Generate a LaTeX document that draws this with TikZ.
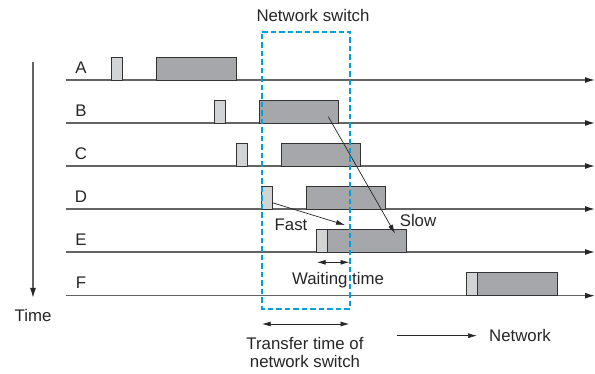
\documentclass[tikz,border=0pt]{standalone}
\usepackage{fontspec}
\setmainfont{Liberation Sans}
\usetikzlibrary{arrows.meta,calc}
\definecolor{darkbox}{RGB}{166,167,170}
\definecolor{lightbox}{RGB}{210,211,213}
\definecolor{lineg}{RGB}{100,100,100}
\definecolor{switchblue}{RGB}{0,160,223}
\tikzset{
  tl/.style={draw=lineg, line width=1.3pt, -{Latex[length=10pt,width=6pt,color=black!85]}},
  lbl/.style={font=\fontsize{16.8}{19}\selectfont, text=black!85, inner sep=0pt},
  lbox/.style={draw=black!80, fill=lightbox, line width=0.8pt, inner sep=0pt, outer sep=0pt, minimum width=11pt, minimum height=23pt, anchor=south west},
  dbox/.style={draw=black!80, fill=darkbox, line width=0.8pt, inner sep=0pt, outer sep=0pt, minimum width=80pt, minimum height=23pt, anchor=south west},
  arr/.style={draw=black!85, line width=0.7pt, -{Latex[length=9pt,width=5pt]}},
  darr/.style={draw=black!85, line width=0.9pt, {Latex[length=9pt,width=5pt]}-{Latex[length=9pt,width=5pt]}},
  swbox/.style={draw=switchblue, line width=1.8pt, dash pattern=on 5.5pt off 3pt},
}
\begin{document}
\begin{tikzpicture}[x=1pt,y=-1pt]
\useasboundingbox (0,0) rectangle (595,374);
% switch box corners
\coordinate (swnw) at (262,32);
\coordinate (swne) at (350,32);
\coordinate (swse) at (350,309);
\coordinate (swsw) at (262,309);
\node[lbl] (swl) at (313,15) {Network switch};
% timelines
\foreach \n/\y in {A/80,B/123,C/166,D/209,E/252,F/295.7}{
  \coordinate (\n0) at (65.7,\y);
  \coordinate (\n1) at (595,\y);
  \draw[tl] (\n0) -- (\n1);
  \node[lbl] (lab\n) at (81,\y-12.5) {\n};
}
% time axis
\coordinate (t0) at (33,62);
\coordinate (t1) at (33,298);
\draw[draw=lineg, line width=1.3pt, -{Latex[length=10pt,width=6pt,color=black!85]}] (t0) -- (t1);
\node[lbl] (time) at (33,315) {Time};
% boxes
\node[lbox] (As) at (111.7,80) {};
\node[dbox, minimum width=79.6pt] (Ab) at (156.7,80) {};
\node[lbox] (Bs) at (214,123) {};
\node[dbox, minimum width=79.3pt] (Bb) at (259,123) {};
\node[lbox] (Cs) at (236.7,166) {};
\node[dbox, minimum width=79.4pt] (Cb) at (281.3,166) {};
\node[dbox, minimum width=79.7pt] (Db) at (306,209) {};
\node[lbox, minimum width=10.6pt] (Ds) at (261.7,209) {};
\node[lbox, minimum width=10.6pt, minimum height=22.7pt] (Es) at (316.7,252) {};
\node[dbox, minimum width=79.4pt, minimum height=22.7pt] (Eb) at (327.3,252) {};
\node[lbox, minimum height=23pt] (Fs) at (466.7,295.7) {};
\node[dbox, minimum width=79.6pt] (Fb) at (477.7,295.7) {};
% arrows
\coordinate (bstart) at (328.3,116.7);
\coordinate (eend) at (395,233.5);
\draw[arr] (bstart) -- (eend);
\coordinate (dstart) at (272.3,202.7);
\coordinate (fend) at (345,225);
\draw[arr] (dstart) -- (fend);
\node[lbl] (fast) at (291,224.5) {Fast};
\node[lbl] (slow) at (418,220.5) {Slow};
\coordinate (w0) at (316.7,262.3);
\coordinate (w1) at (349.5,262.3);
\draw[darr] (w0) -- (w1);
\node[lbl] (wait) at (338,280.5) {Waiting time};
\coordinate (tr0) at (261.7,324);
\coordinate (tr1) at (349.5,324);
\draw[darr] (tr0) -- (tr1);
\node[lbl, align=center, font=\fontsize{16.8}{18}\selectfont] (trl) at (305,352) {Transfer time of\\network switch};
\coordinate (n0) at (396.7,335.7);
\coordinate (n1) at (477,335.7);
\draw[arr] (n0) -- (n1);
\node[lbl] (net) at (520,335) {Network};
% switch outline on top
\draw[swbox] (swnw) -- (swne) -- (swse) -- (swsw) -- cycle;
\end{tikzpicture}
\end{document}
